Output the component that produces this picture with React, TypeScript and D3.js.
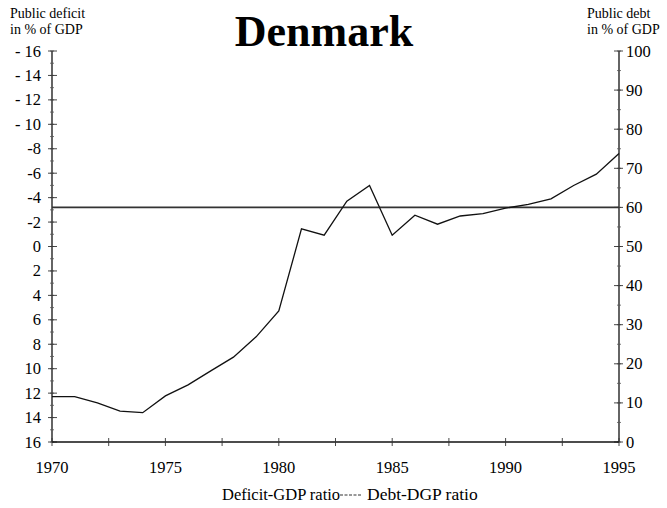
import React from 'react';
import * as d3 from 'd3';

const years = [1970, 1971, 1972, 1973, 1974, 1975, 1976, 1977, 1978, 1979, 1980, 1981, 1982,
  1983, 1984, 1985, 1986, 1987, 1988, 1989, 1990, 1991, 1992, 1993, 1994, 1995];
const debt = [11.6, 11.6, 10, 7.9, 7.5, 11.8, 14.6, 18.2, 21.7, 26.9, 33.5, 54.5, 52.9,
  61.6, 65.6, 52.9, 58, 55.7, 57.8, 58.4, 59.8, 60.8, 62.2, 65.6, 68.5, 73.8];
const limitDebt = 60;
const deficitTicks = [-16, -14, -12, -10, -8, -6, -4, -2, 0, 2, 4, 6, 8, 10, 12, 14, 16];
const debtTicks = [0, 10, 20, 30, 40, 50, 60, 70, 80, 90, 100];
const yearTicks = [1970, 1975, 1980, 1985, 1990, 1995];

export default function App() {
  const width = 667, height = 508;
  const left = 52, right = 619, top = 51, bottom = 442;
  const font = 'Liberation Serif';

  const x = d3.scaleLinear().domain([1970, 1995]).range([left, right]);
  const yDef = d3.scaleLinear().domain([-16, 16]).range([top, bottom]);
  const yDebt = d3.scaleLinear().domain([0, 100]).range([bottom, top]);

  const line = d3.line<number>()
    .x((d, i) => x(years[i]))
    .y(d => yDebt(d));

  const minorDef = d3.range(-16, 16.01, 1);
  const minorDebt = d3.range(0, 100.01, 5);
  const xMinor = d3.range(1970, 1995.01, 2.5);

  return (
    <svg width={width} height={height} style={{ position: 'absolute', left: 0, top: 0, background: '#fff' }}
      fontFamily={font}>
      <rect width={width} height={height} fill="#fff" />
      <text x={324} y={46} textAnchor="middle" fontSize={44} fontWeight="bold">Denmark</text>

      <text x={10} y={18} fontSize={14}>Public deficit</text>
      <text x={10} y={34} fontSize={14}>in % of GDP</text>
      <text x={587} y={18} fontSize={14}>Public debt</text>
      <text x={587} y={34} fontSize={14}>in % of GDP</text>

      {/* left axis */}
      <line x1={left} x2={left} y1={top} y2={bottom} stroke="#111" strokeWidth={1.3} />
      {minorDef.map(v => (
        <line key={'lm' + v} x1={left - 2} x2={left + 2} y1={yDef(v)} y2={yDef(v)} stroke="#555" strokeWidth={0.8} />
      ))}
      {deficitTicks.map(v => (
        <g key={'l' + v}>
          <line x1={left - 4} x2={left + 5} y1={yDef(v)} y2={yDef(v)} stroke="#333" strokeWidth={0.9} />
          <text x={41} y={yDef(v) + 5.5} fontSize={16.5} textAnchor="end">
            {v < 0 ? (v <= -10 ? '- ' : '-') + Math.abs(v) : String(v)}
          </text>
        </g>
      ))}

      {/* right axis */}
      <line x1={right} x2={right} y1={top} y2={bottom} stroke="#111" strokeWidth={1.3} />
      {minorDebt.map(v => (
        <line key={'rm' + v} x1={right - 2} x2={right + 2} y1={yDebt(v)} y2={yDebt(v)} stroke="#555" strokeWidth={0.8} />
      ))}
      {debtTicks.map(v => (
        <g key={'r' + v}>
          <line x1={right - 5} x2={right + 4} y1={yDebt(v)} y2={yDebt(v)} stroke="#333" strokeWidth={0.9} />
          <text x={626} y={yDebt(v) + 5.5} fontSize={16.5}>{v}</text>
        </g>
      ))}

      {/* bottom axis */}
      <line x1={left} x2={right} y1={bottom} y2={bottom} stroke="#111" strokeWidth={1.3} />
      {xMinor.map(v => (
        <line key={'x' + v} x1={x(v)} x2={x(v)} y1={bottom - 4} y2={bottom + 4} stroke="#333" strokeWidth={0.9} />
      ))}
      {yearTicks.map(v => (
        <text key={'xt' + v} x={x(v)} y={473} fontSize={16.5} textAnchor="middle">{v}</text>
      ))}

      {/* 60% reference line */}
      <line x1={left} x2={right} y1={yDebt(limitDebt)} y2={yDebt(limitDebt)} stroke="#333" strokeWidth={1.6} />

      <path d={line(debt) || ''} fill="none" stroke="#111" strokeWidth={1.3} />

      {/* legend */}
      <text x={222} y={500} fontSize={16.5}>Deficit-GDP ratio</text>
      <line x1={340} x2={362} y1={495} y2={495} stroke="#333" strokeWidth={1} strokeDasharray="3,1.5" />
      <text x={367} y={500} fontSize={17.5}>Debt-DGP ratio</text>
    </svg>
  );
}
